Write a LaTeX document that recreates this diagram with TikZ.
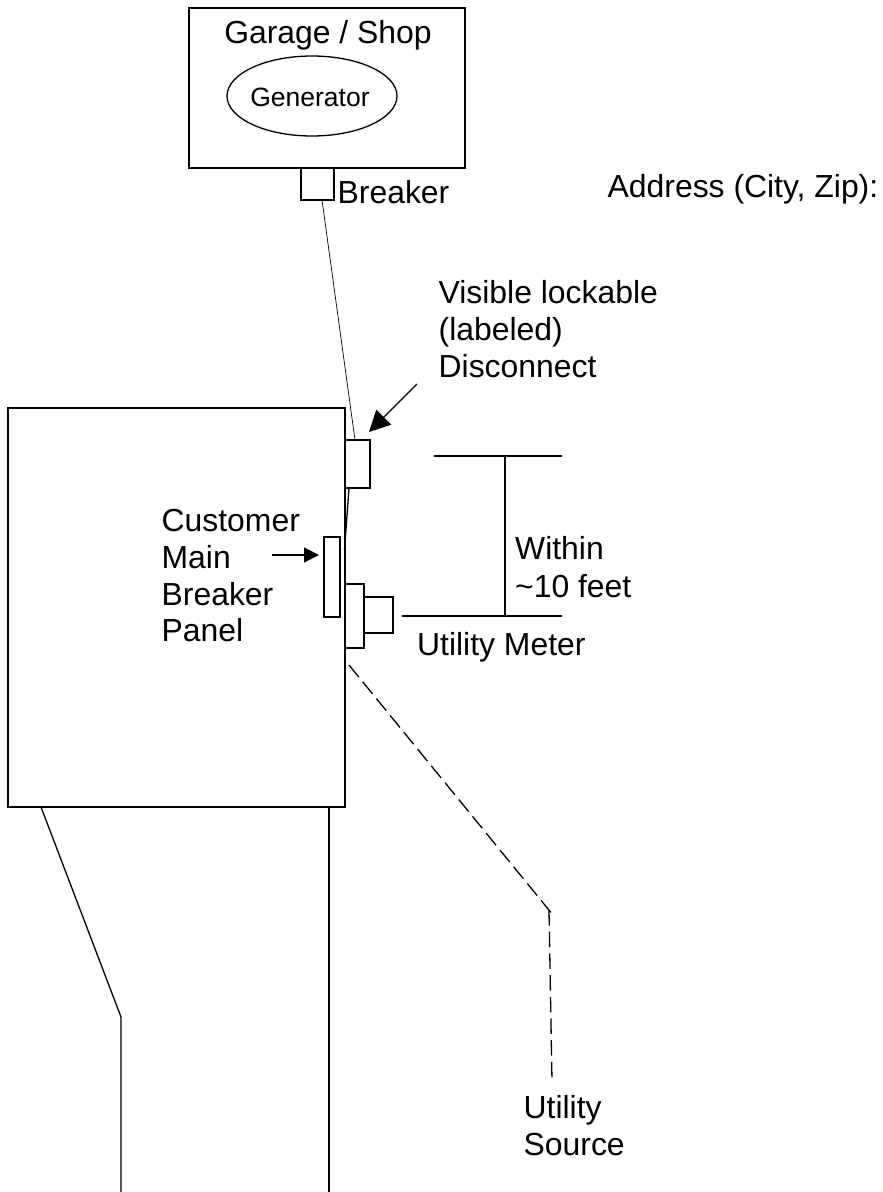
\documentclass[tikz,border=0pt]{standalone}
\usepackage{fontspec}
\setmainfont{Liberation Sans}
\usetikzlibrary{arrows.meta,shapes.geometric}
\begin{document}
\begin{tikzpicture}[x=1pt,y=-1pt,line width=1.3pt,
 lbl/.style={inner sep=0pt,anchor=base west,font=\fontsize{31.9}{36}\selectfont},
 box/.style={draw,inner sep=0pt,outer sep=0pt,anchor=north west},
 hair/.style={line width=0.7pt},
 dashline/.style={line width=1.3pt,dash pattern=on 15.5pt off 6.2pt},
 head/.style={-{Triangle[length=15pt,width=15pt]}},
 bighead/.style={-{Triangle[length=21pt,width=21pt]}}]
\useasboundingbox (0,0) rectangle (883,1192);
% Garage
\node[box,minimum width=276,minimum height=160] (garage) at (189,8) {};
\node[lbl,anchor=base] (gs) at (328,43) {Garage / Shop};
\node[draw,ellipse,inner sep=0pt,outer sep=0pt,minimum width=170,minimum height=80] (genbox) at (312,96) {};
\node[lbl,anchor=base,font=\fontsize{26.5}{30}\selectfont] (gen) at (310,106) {Generator};
\node[box,minimum width=33,minimum height=32] (brk) at (301,168) {};
\node[lbl] (brl) at (337,203) {Breaker};
\node[lbl] (addr) at (607,197.5) {Address (City, Zip):};
% Disconnect label
\node[lbl] (vis1) at (438,303.5) {Visible lockable};
\node[lbl] (vis2) at (438,340) {(labeled)};
\node[lbl] (vis3) at (438,377) {Disconnect};
% House
\node[box,minimum width=337,minimum height=399] (house) at (8,408) {};
\node[box,minimum width=25,minimum height=48] (disc) at (345,440) {};
\node[box,minimum width=16,minimum height=80] (panel) at (324,537) {};
\node[box,minimum width=19,minimum height=64] (mbase) at (345,584) {};
\node[box,minimum width=29,minimum height=36] (mhead) at (364,597) {};
% Customer label
\node[lbl] (c1) at (161,531) {Customer};
\node[lbl] (c2) at (161,568) {Main};
\node[lbl] (c3) at (161,605) {Breaker};
\node[lbl] (c4) at (161,641) {Panel};
% Dimension
\node[lbl] (w1) at (514.5,559) {Within};
\node[lbl] (w2) at (514.5,597) {\textasciitilde10 feet};
\node[lbl] (um) at (416.5,655.5) {Utility Meter};
\node[lbl] (u1) at (523,1118) {Utility};
\node[lbl] (u2) at (523,1155) {Source};
% coordinates
\coordinate (wa) at (322,200);
\coordinate (wb) at (355,440);
\coordinate (wc) at (349,488);
\coordinate (wd) at (344.5,550);
\coordinate (a1) at (417,384);
\coordinate (a2) at (369,432);
\coordinate (b1) at (272,555);
\coordinate (b2) at (319,555);
\coordinate (t1) at (434,456);
\coordinate (t2) at (562,456);
\coordinate (t3) at (505,456);
\coordinate (m1) at (402,616);
\coordinate (m2) at (562,616);
\coordinate (m3) at (505,616);
\coordinate (d1) at (349,665);
\coordinate (d2) at (553,915);
\coordinate (d3) at (549,910);
\coordinate (d4) at (552,1081);
\coordinate (l1) at (41,807);
\coordinate (l2) at (121,1017);
\coordinate (l3) at (121,1192);
\coordinate (r1) at (329,807);
\coordinate (r2) at (329,1192);
% connectors
\draw[hair] (wa) -- (wb);
\draw (wc) -- (wd);
\draw[bighead] (a1) -- (a2);
\draw[head] (b1) -- (b2);
\draw (t1) -- (t2);
\draw (m1) -- (m2);
\draw (t3) -- (m3);
\draw[dashline] (d1) -- (d2);
\draw[dashline] (d3) -- (d4);
\draw (l1) -- (l2) -- (l3);
\draw (r1) -- (r2);
\end{tikzpicture}
\end{document}
